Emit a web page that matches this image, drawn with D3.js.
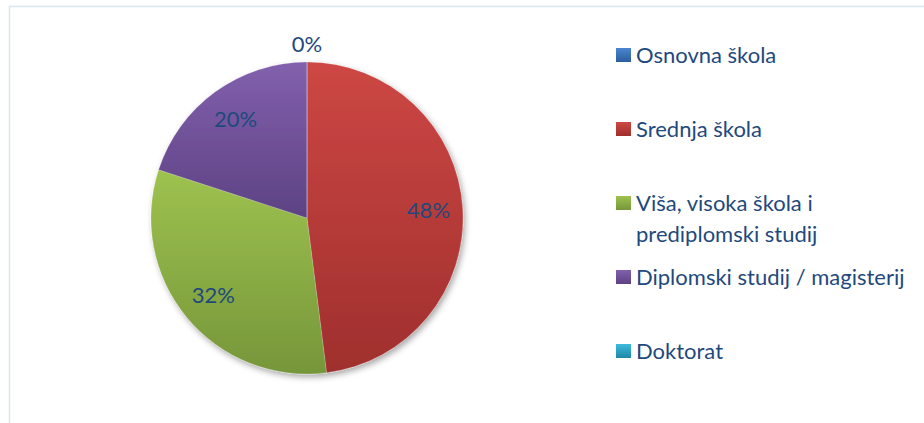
<!DOCTYPE html>
<html>
<head>
<meta charset="utf-8">
<script src="https://cdn.jsdelivr.net/npm/d3@7.9.0/dist/d3.min.js"></script>
<style>
  body { margin: 0; background: #fff; }
  svg { display: block; font-family: Lato, "Noto Sans", sans-serif; }
</style>
</head>
<body>
<svg id="chart" width="924" height="423"></svg>
<script>
// data
const categories = ['Osnovna škola', 'Srednja škola', 'Viša, visoka škola i prediplomski studij',
  'Diplomski studij / magisterij', 'Doktorat'];
const shares = [0, 48, 32, 20, 0];
// legend text is wrapped as in the original
const legendLines = [['Osnovna škola'], ['Srednja škola'], ['Viša, visoka škola i', 'prediplomski studij'],
  ['Diplomski studij / magisterij'], ['Doktorat']];
const topColors = ['#4a86cf', '#cd4744', '#9ec24f', '#8260ad', '#3cbadc'];
const bottomColors = ['#2b5e9e', '#9f2f2d', '#76963a', '#5d4283', '#1f88a6'];

const svg = d3.select('#chart');
const textColor = '#1f497d';

// light frame of the chart area
svg.append('path')
  .attr('d', 'M9.5,423 V6.5 H924')
  .attr('fill', 'none')
  .attr('stroke', '#dbe5f1')
  .attr('stroke-width', 1.5);

const defs = svg.append('defs');
categories.forEach((c, i) => {
  const g = defs.append('linearGradient')
    .attr('id', 'grad' + i)
    .attr('x1', 0).attr('y1', 0).attr('x2', 0).attr('y2', 1);
  g.append('stop').attr('offset', '0%').attr('stop-color', topColors[i]);
  g.append('stop').attr('offset', '100%').attr('stop-color', bottomColors[i]);
});

const shadow = defs.append('filter').attr('id', 'shadow')
  .attr('x', '-20%').attr('y', '-20%').attr('width', '140%').attr('height', '140%');
shadow.append('feDropShadow')
  .attr('dx', 2).attr('dy', 3).attr('stdDeviation', 3)
  .attr('flood-color', '#000').attr('flood-opacity', 0.35);

// pie
const cx = 307, cy = 218, radius = 156;
const pie = d3.pie().sort(null).value(d => d);
const arcData = pie(shares);
const arc = d3.arc().innerRadius(0).outerRadius(radius);
const labelArc = d3.arc().innerRadius(radius * 0.78).outerRadius(radius * 0.78);
const outerArc = d3.arc().innerRadius(radius + 18).outerRadius(radius + 18);

const g = svg.append('g').attr('transform', `translate(${cx},${cy})`);

g.append('g')
  .attr('filter', 'url(#shadow)')
  .selectAll('path')
  .data(arcData)
  .join('path')
  .attr('d', arc)
  .attr('fill', (d, i) => `url(#grad${i})`)
  .attr('stroke', 'rgba(255,255,255,0.3)')
  .attr('stroke-width', 0.6);

// percentage labels; zero slices sit outside at the top and overlap, so only one is drawn
const seen = new Set();
const labelData = arcData.filter(d => {
  const key = d.value === 0 ? 'zero' : d.index;
  if (seen.has(key)) return false;
  seen.add(key);
  return true;
});

g.selectAll('text.lbl')
  .data(labelData)
  .join('text')
  .attr('class', 'lbl')
  .attr('transform', d => `translate(${(d.value === 0 ? outerArc : labelArc).centroid(d)})`)
  .attr('text-anchor', 'middle')
  .attr('dy', '0.35em')
  .attr('fill', textColor)
  .attr('font-size', 22)
  .text(d => d3.format('.0%')(d.value / d3.sum(shares)));

// legend
const y = d3.scalePoint().domain(categories).range([55, 351]);
const legend = svg.append('g');
const items = legend.selectAll('g')
  .data(categories)
  .join('g')
  .attr('transform', d => `translate(616,${y(d)})`);

items.append('rect')
  .attr('x', 0).attr('y', -7)
  .attr('width', 15).attr('height', 14)
  .attr('fill', (d, i) => `url(#grad${i})`);

items.append('text')
  .attr('x', 20)
  .attr('fill', textColor)
  .attr('font-size', 22)
  .selectAll('tspan')
  .data((d, i) => legendLines[i].map((t, k) => ({ t, k })))
  .join('tspan')
  .attr('x', 20)
  .attr('y', d => 8 + d.k * 31)
  .text(d => d.t);
</script>
</body>
</html>
